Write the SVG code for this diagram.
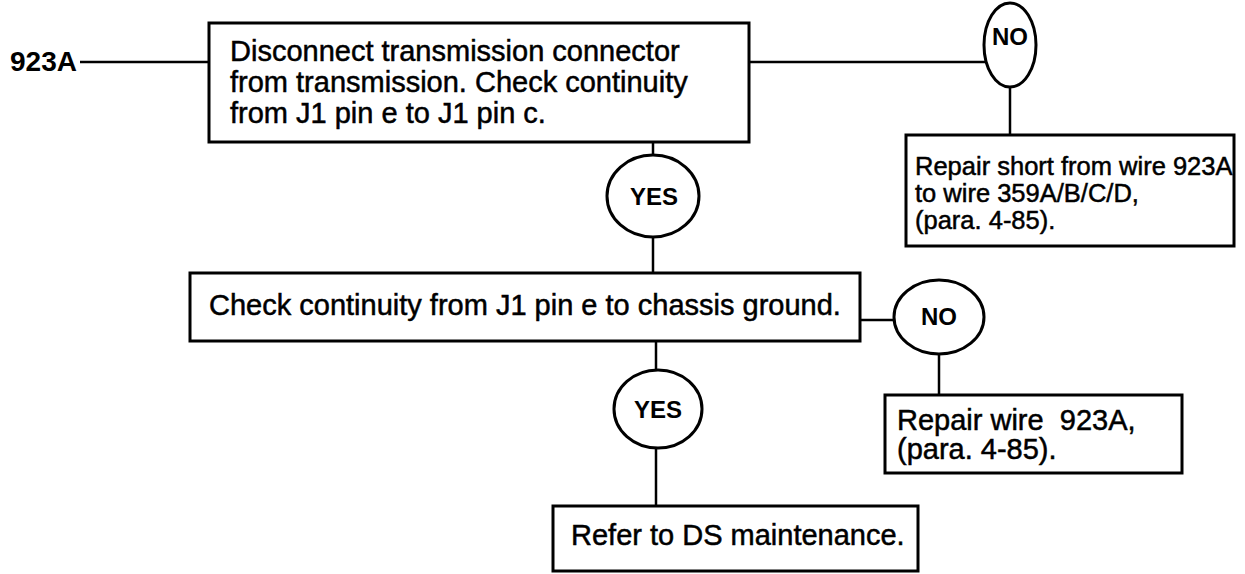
<svg xmlns="http://www.w3.org/2000/svg" width="1245" height="574" viewBox="0 0 1245 574">
<style>
.box{fill:#fff;stroke:#000;stroke-width:3}
.oval{fill:#fff;stroke:#000;stroke-width:3}
.ln{stroke:#000;stroke-width:2.5;fill:none}
.t{font-family:"Liberation Sans",Arial,sans-serif;font-size:29px;fill:#000;stroke:#000;stroke-width:0.5}
.s{font-family:"Liberation Sans",Arial,sans-serif;font-size:25.5px;fill:#000;stroke:#000;stroke-width:0.5}
.c{font-family:"Liberation Sans",Arial,sans-serif;font-size:24px;font-weight:bold;fill:#000;text-anchor:middle}
.b{font-family:"Liberation Sans",Arial,sans-serif;font-size:28px;font-weight:bold;fill:#000}
</style>
<rect width="1245" height="574" fill="#fff"/>
<g id="connectors">
<line class="ln" x1="80" y1="62" x2="209" y2="62"/>
<line class="ln" x1="749" y1="62" x2="987" y2="62"/>
<line class="ln" x1="1010" y1="87" x2="1010" y2="135"/>
<line class="ln" x1="653" y1="142" x2="653" y2="155"/>
<line class="ln" x1="653" y1="237" x2="653" y2="273"/>
<line class="ln" x1="860" y1="320" x2="894" y2="320"/>
<line class="ln" x1="939" y1="354" x2="939" y2="395"/>
<line class="ln" x1="656" y1="341" x2="656" y2="371"/>
<line class="ln" x1="656" y1="448" x2="656" y2="506"/>
</g>
<g id="start"><text class="b" x="10" y="71">923A</text></g>
<g id="box1">
<rect class="box" x="209" y="23" width="540" height="119"/>
<text class="t" x="230" y="61">Disconnect transmission connector</text>
<text class="t" x="230" y="92">from transmission. Check continuity</text>
<text class="t" x="230" y="123">from J1 pin e to J1 pin c.</text>
</g>
<g id="no1">
<ellipse class="oval" cx="1010" cy="45" rx="26" ry="42"/>
<text class="c" x="1010" y="45">NO</text>
</g>
<g id="repair1">
<rect class="box" x="906" y="135" width="328" height="111"/>
<text class="s" x="915" y="175">Repair short from wire 923A</text>
<text class="s" x="915" y="202">to wire 359A/B/C/D,</text>
<text class="s" x="915" y="229">(para. 4-85).</text>
</g>
<g id="yes1">
<ellipse class="oval" cx="653" cy="196" rx="46" ry="41"/>
<text class="c" x="654" y="205">YES</text>
</g>
<g id="box2">
<rect class="box" x="190" y="273" width="670" height="68"/>
<text class="t" x="209" y="315">Check continuity from J1 pin e to chassis ground.</text>
</g>
<g id="no2">
<ellipse class="oval" cx="939" cy="317" rx="45" ry="37"/>
<text class="c" x="939" y="325">NO</text>
</g>
<g id="repair2">
<rect class="box" x="885" y="395" width="297" height="78"/>
<text class="t" x="897" y="430">Repair wire&#160; 923A,</text>
<text class="t" x="897" y="459">(para. 4-85).</text>
</g>
<g id="yes2">
<ellipse class="oval" cx="658" cy="409" rx="44" ry="39"/>
<text class="c" x="658" y="418">YES</text>
</g>
<g id="refer">
<rect class="box" x="553" y="506" width="365" height="65"/>
<text class="t" x="571" y="545">Refer to DS maintenance.</text>
</g>
</svg>
